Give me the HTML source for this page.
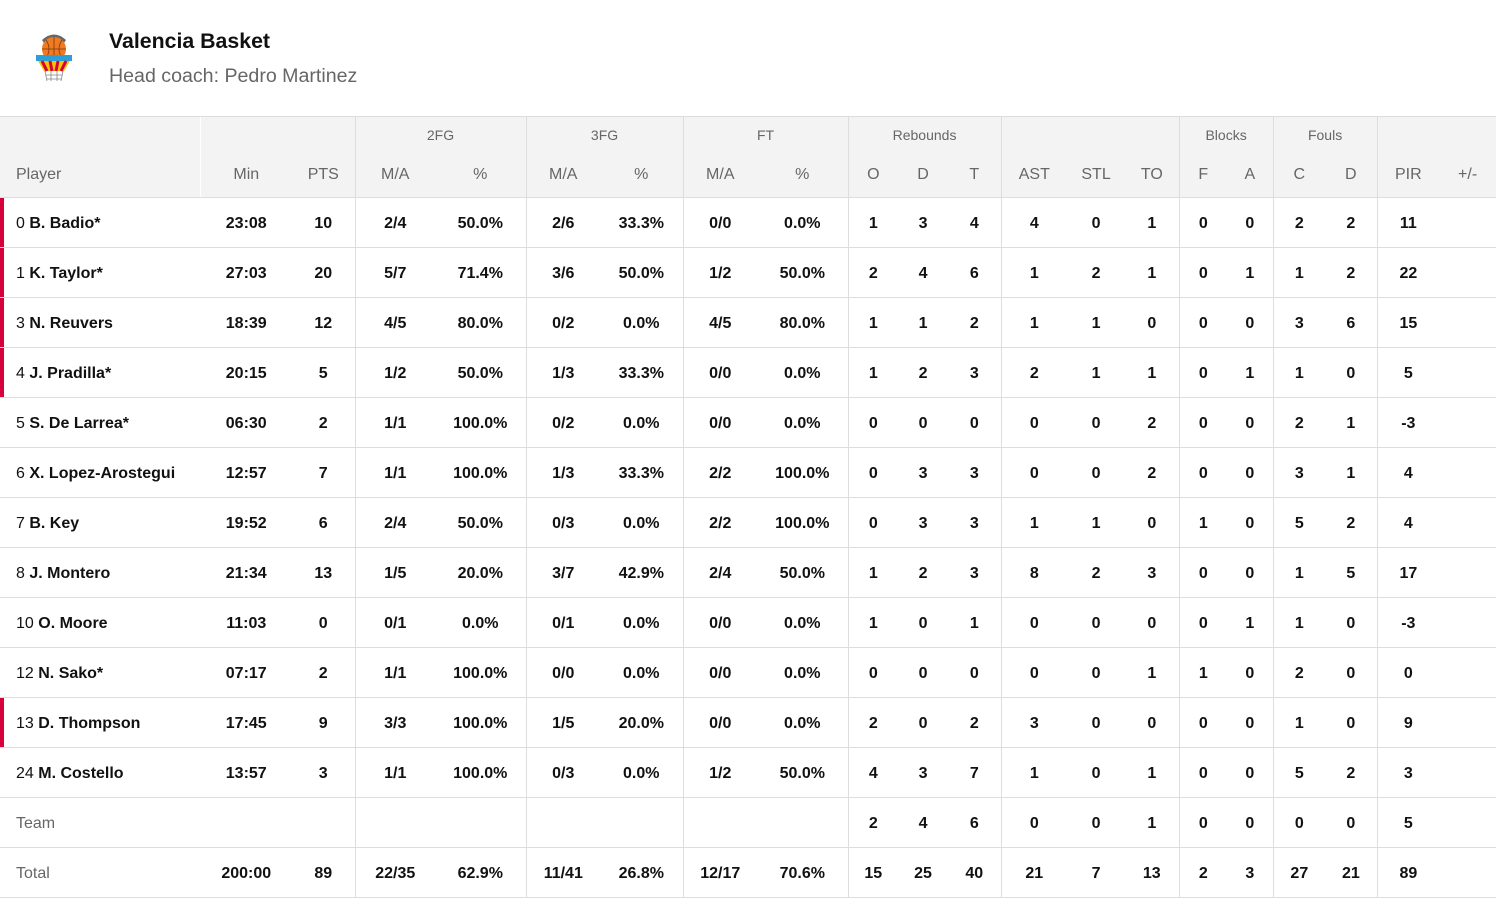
<!DOCTYPE html>
<html><head><meta charset="utf-8"><style>
body{margin:0;width:1496px;height:900px;background:#fff;font-family:"Liberation Sans",sans-serif;overflow:hidden;position:relative}
.t1{position:absolute;left:109px;top:29px;font-size:21.3px;font-weight:bold;color:#111}
.t2{position:absolute;left:109px;top:65px;font-size:19.6px;color:#666}
table{position:absolute;left:0;top:116px;border-collapse:collapse;table-layout:fixed;width:1496px}
td,th{padding:0;text-align:center;font-size:16px;white-space:nowrap;overflow:hidden}
thead tr.g th{height:35px;background:#f3f3f3;font-weight:normal;font-size:14px;color:#666;border-top:1px solid #ddd;vertical-align:middle;padding-top:0}
thead tr.s th{height:45px;background:#f3f3f3;font-weight:normal;color:#666;border-bottom:1px solid #ddd}
tbody td{height:46px;padding-top:3px;border-bottom:1px solid #ddd;font-weight:bold;color:#111}
.b{border-left:1px solid #ddd}
.w{border-left:1px solid #fff}
td.p,th.p{text-align:left;padding-left:16px}
td.p span{font-weight:normal}
tr.st td.p{box-shadow:inset 4px 0 0 #d6003c}
td.l{font-weight:normal;color:#666}
.logo{position:absolute;left:34px;top:31px}
</style></head><body>
<svg class="logo" width="40" height="52" viewBox="0 0 40 52">
<path d="M8 9 Q20 -2 32 9 L30 12 Q20 4 10 12Z" fill="#666"/>
<circle cx="20" cy="18" r="12" fill="#f07a22"/>
<path d="M8 18 H32 M20 6 V30 M12 9 Q18 18 12 27 M28 9 Q22 18 28 27" stroke="#7a3a10" stroke-width="0.8" fill="none"/>
<rect x="2" y="24" width="36" height="6" fill="#2c9fd9"/>
<path d="M4 30 L36 30 L30 40 L10 40Z" fill="#f5c400"/>
<path d="M8 30 L13 40 M16 30 L18 40 M24 30 L22 40 M32 30 L27 40" stroke="#d6003c" stroke-width="3"/>
<path d="M11 40 L13 50 M17 40 L17 50 M23 40 L23 50 M29 40 L27 50 M12 44 H28 M13 48 H27" stroke="#888" stroke-width="0.8"/>
</svg>
<div class="t1">Valencia Basket</div>
<div class="t2">Head coach: Pedro Martinez</div>
<table>
<colgroup><col style="width:200px"><col style="width:92px"><col style="width:63px"><col style="width:80px"><col style="width:91px"><col style="width:74px"><col style="width:83px"><col style="width:74px"><col style="width:91px"><col style="width:50px"><col style="width:50px"><col style="width:53px"><col style="width:66px"><col style="width:58px"><col style="width:54px"><col style="width:48px"><col style="width:46px"><col style="width:52px"><col style="width:52px"><col style="width:62px"><col style="width:57px"></colgroup>
<thead>
<tr class="g"><th></th><th class="w" colspan="2"></th><th class="b" colspan="2">2FG</th><th class="b" colspan="2">3FG</th><th class="b" colspan="2">FT</th><th class="b" colspan="3">Rebounds</th><th class="b" colspan="3"></th><th class="b" colspan="2">Blocks</th><th class="b" colspan="2">Fouls</th><th class="b" colspan="2"></th></tr>
<tr class="s"><th class="p">Player</th><th class="w">Min</th><th>PTS</th><th class="b">M/A</th><th>%</th><th class="b">M/A</th><th>%</th><th class="b">M/A</th><th>%</th><th class="b">O</th><th>D</th><th>T</th><th class="b">AST</th><th>STL</th><th>TO</th><th class="b">F</th><th>A</th><th class="b">C</th><th>D</th><th class="b">PIR</th><th>+/-</th></tr>
</thead>
<tbody>
<tr class="st"><td class="p"><span>0</span> B. Badio*</td><td class="w">23:08</td><td>10</td><td class="b">2/4</td><td>50.0%</td><td class="b">2/6</td><td>33.3%</td><td class="b">0/0</td><td>0.0%</td><td class="b">1</td><td>3</td><td>4</td><td class="b">4</td><td>0</td><td>1</td><td class="b">0</td><td>0</td><td class="b">2</td><td>2</td><td class="b">11</td><td></td></tr>
<tr class="st"><td class="p"><span>1</span> K. Taylor*</td><td class="w">27:03</td><td>20</td><td class="b">5/7</td><td>71.4%</td><td class="b">3/6</td><td>50.0%</td><td class="b">1/2</td><td>50.0%</td><td class="b">2</td><td>4</td><td>6</td><td class="b">1</td><td>2</td><td>1</td><td class="b">0</td><td>1</td><td class="b">1</td><td>2</td><td class="b">22</td><td></td></tr>
<tr class="st"><td class="p"><span>3</span> N. Reuvers</td><td class="w">18:39</td><td>12</td><td class="b">4/5</td><td>80.0%</td><td class="b">0/2</td><td>0.0%</td><td class="b">4/5</td><td>80.0%</td><td class="b">1</td><td>1</td><td>2</td><td class="b">1</td><td>1</td><td>0</td><td class="b">0</td><td>0</td><td class="b">3</td><td>6</td><td class="b">15</td><td></td></tr>
<tr class="st"><td class="p"><span>4</span> J. Pradilla*</td><td class="w">20:15</td><td>5</td><td class="b">1/2</td><td>50.0%</td><td class="b">1/3</td><td>33.3%</td><td class="b">0/0</td><td>0.0%</td><td class="b">1</td><td>2</td><td>3</td><td class="b">2</td><td>1</td><td>1</td><td class="b">0</td><td>1</td><td class="b">1</td><td>0</td><td class="b">5</td><td></td></tr>
<tr><td class="p"><span>5</span> S. De Larrea*</td><td class="w">06:30</td><td>2</td><td class="b">1/1</td><td>100.0%</td><td class="b">0/2</td><td>0.0%</td><td class="b">0/0</td><td>0.0%</td><td class="b">0</td><td>0</td><td>0</td><td class="b">0</td><td>0</td><td>2</td><td class="b">0</td><td>0</td><td class="b">2</td><td>1</td><td class="b">-3</td><td></td></tr>
<tr><td class="p"><span>6</span> X. Lopez-Arostegui</td><td class="w">12:57</td><td>7</td><td class="b">1/1</td><td>100.0%</td><td class="b">1/3</td><td>33.3%</td><td class="b">2/2</td><td>100.0%</td><td class="b">0</td><td>3</td><td>3</td><td class="b">0</td><td>0</td><td>2</td><td class="b">0</td><td>0</td><td class="b">3</td><td>1</td><td class="b">4</td><td></td></tr>
<tr><td class="p"><span>7</span> B. Key</td><td class="w">19:52</td><td>6</td><td class="b">2/4</td><td>50.0%</td><td class="b">0/3</td><td>0.0%</td><td class="b">2/2</td><td>100.0%</td><td class="b">0</td><td>3</td><td>3</td><td class="b">1</td><td>1</td><td>0</td><td class="b">1</td><td>0</td><td class="b">5</td><td>2</td><td class="b">4</td><td></td></tr>
<tr><td class="p"><span>8</span> J. Montero</td><td class="w">21:34</td><td>13</td><td class="b">1/5</td><td>20.0%</td><td class="b">3/7</td><td>42.9%</td><td class="b">2/4</td><td>50.0%</td><td class="b">1</td><td>2</td><td>3</td><td class="b">8</td><td>2</td><td>3</td><td class="b">0</td><td>0</td><td class="b">1</td><td>5</td><td class="b">17</td><td></td></tr>
<tr><td class="p"><span>10</span> O. Moore</td><td class="w">11:03</td><td>0</td><td class="b">0/1</td><td>0.0%</td><td class="b">0/1</td><td>0.0%</td><td class="b">0/0</td><td>0.0%</td><td class="b">1</td><td>0</td><td>1</td><td class="b">0</td><td>0</td><td>0</td><td class="b">0</td><td>1</td><td class="b">1</td><td>0</td><td class="b">-3</td><td></td></tr>
<tr><td class="p"><span>12</span> N. Sako*</td><td class="w">07:17</td><td>2</td><td class="b">1/1</td><td>100.0%</td><td class="b">0/0</td><td>0.0%</td><td class="b">0/0</td><td>0.0%</td><td class="b">0</td><td>0</td><td>0</td><td class="b">0</td><td>0</td><td>1</td><td class="b">1</td><td>0</td><td class="b">2</td><td>0</td><td class="b">0</td><td></td></tr>
<tr class="st"><td class="p"><span>13</span> D. Thompson</td><td class="w">17:45</td><td>9</td><td class="b">3/3</td><td>100.0%</td><td class="b">1/5</td><td>20.0%</td><td class="b">0/0</td><td>0.0%</td><td class="b">2</td><td>0</td><td>2</td><td class="b">3</td><td>0</td><td>0</td><td class="b">0</td><td>0</td><td class="b">1</td><td>0</td><td class="b">9</td><td></td></tr>
<tr><td class="p"><span>24</span> M. Costello</td><td class="w">13:57</td><td>3</td><td class="b">1/1</td><td>100.0%</td><td class="b">0/3</td><td>0.0%</td><td class="b">1/2</td><td>50.0%</td><td class="b">4</td><td>3</td><td>7</td><td class="b">1</td><td>0</td><td>1</td><td class="b">0</td><td>0</td><td class="b">5</td><td>2</td><td class="b">3</td><td></td></tr>
<tr><td class="p l">Team</td><td class="w"></td><td></td><td class="b"></td><td></td><td class="b"></td><td></td><td class="b"></td><td></td><td class="b">2</td><td>4</td><td>6</td><td class="b">0</td><td>0</td><td>1</td><td class="b">0</td><td>0</td><td class="b">0</td><td>0</td><td class="b">5</td><td></td></tr>
<tr><td class="p l">Total</td><td class="w">200:00</td><td>89</td><td class="b">22/35</td><td>62.9%</td><td class="b">11/41</td><td>26.8%</td><td class="b">12/17</td><td>70.6%</td><td class="b">15</td><td>25</td><td>40</td><td class="b">21</td><td>7</td><td>13</td><td class="b">2</td><td>3</td><td class="b">27</td><td>21</td><td class="b">89</td><td></td></tr>
</tbody></table>
</body></html>
